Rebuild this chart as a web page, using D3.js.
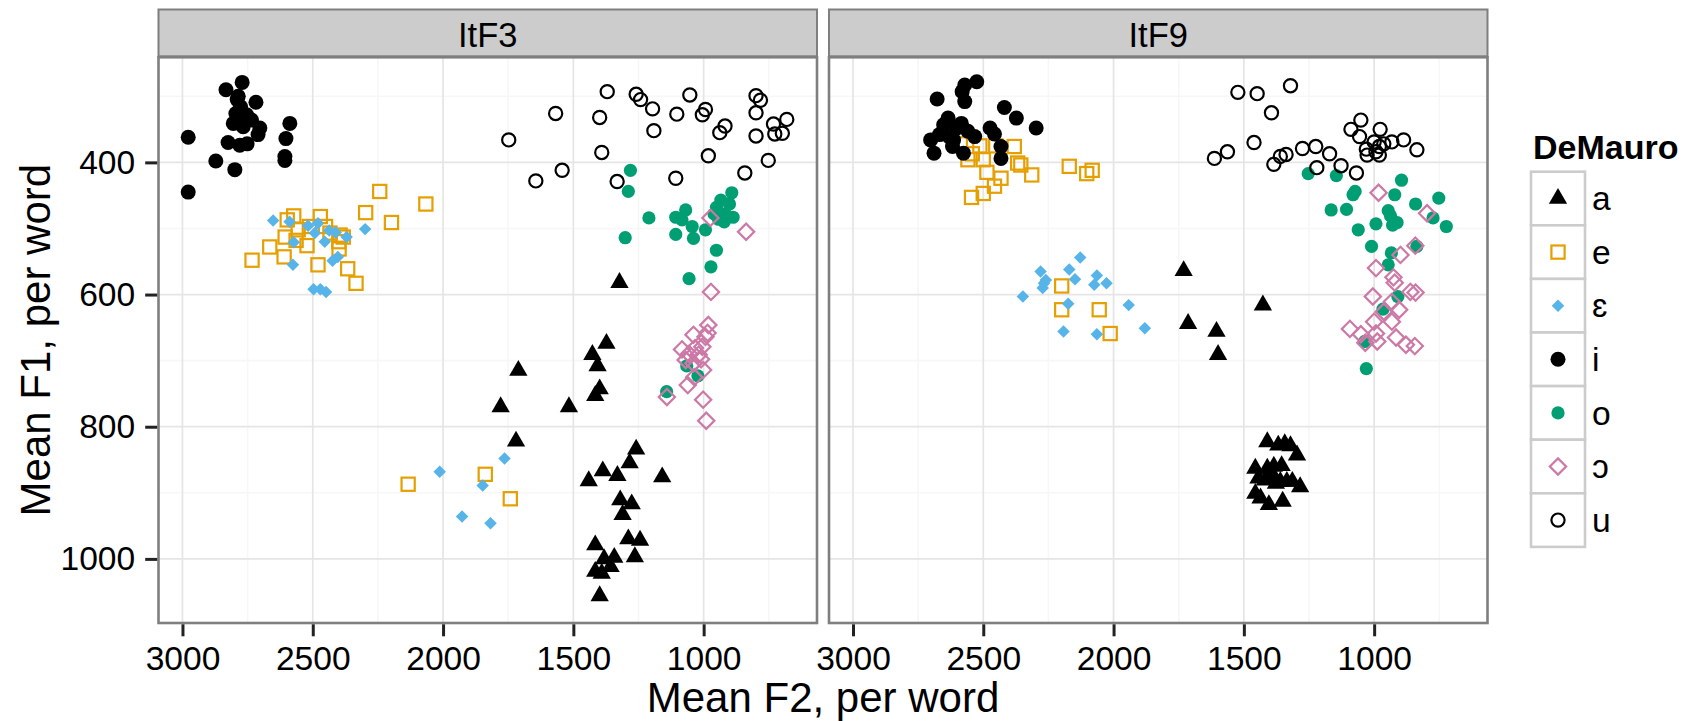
<!DOCTYPE html>
<html>
<head>
<meta charset="utf-8">
<script src="https://cdn.jsdelivr.net/npm/d3@7"></script>
<style>
  html, body { margin: 0; padding: 0; background: #fff; }
  svg { display: block; }
  text { font-family: "Liberation Sans", Arial, Helvetica, sans-serif; }
</style>
</head>
<body>
<svg id="chart" width="1692" height="721"></svg>
<script>
// Vowel categories (DeMauro transcription) and speakers
const vowels = ["a", "e", "ɛ", "i", "o", "ɔ", "u"];
const speakers = ["ItF3", "ItF9"];

// Tick values
const xTicks = [3000, 2500, 2000, 1500, 1000];
const xMinor = [2750, 2250, 1750, 1250, 750];
const yTicks = [400, 600, 800, 1000];
const yMinor = [300, 500, 700, 900];

// Speaker ItF3: [mean F2, mean F1] per word
const itF3_a = [[1323,582],[1373,674],[1427,691],[1407,708],[1711,715],[1399,743],[1416,753],[1779,770],[1517,770],[1720,822],[1259,834],[1284,855],[1387,867],[1331,874],[1441,882],[1159,876],[1320,911],[1276,917],[1311,933],[1289,970],[1244,972],[1416,979],[1382,1000],[1343,998],[1264,997],[1416,1019],[1391,1022],[1357,1012],[1399,1056]];
const itF3_e = [[2243,444],[2066,463],[2297,476],[2198,491],[2598,487],[2573,481],[2471,482],[2451,497],[2513,497],[2556,502],[2434,507],[2395,510],[2383,513],[2400,520],[2606,513],[2564,518],[2665,528],[2522,526],[2399,531],[2733,548],[2610,543],[2480,555],[2366,561],[2334,583],[2134,887],[1838,872],[1742,909]];
const itF3_eps = [[2652,488],[2589,490],[2518,496],[2480,492],[2437,503],[2412,506],[2370,513],[2299,501],[2454,520],[2573,521],[2492,507],[2404,543],[2424,549],[2576,555],[2497,592],[2471,592],[2449,596],[2013,868],[1848,889],[1764,848],[1927,936],[1818,946]];
const itF3_i = [[2771,279],[2833,290],[2786,300],[2718,309],[2795,326],[2754,328],[2805,341],[2767,346],[2703,348],[2710,358],[2588,341],[2603,364],[2607,391],[2607,397],[2978,362],[2825,370],[2780,374],[2752,372],[2872,398],[2799,411],[2978,445],[2777,316],[2773,335],[2735,336],[2790,305]];
const itF3_o = [[1281,412],[1289,444],[1210,484],[1301,514],[1069,472],[1107,483],[1083,487],[1107,509],[1044,497],[1039,515],[993,502],[951,533],[972,558],[1056,576],[892,446],[934,457],[901,463],[951,468],[960,478],[917,478],[943,486],[887,483],[921,490],[1065,708],[1022,723],[1142,747]];
const itF3_open_o = [[974,484],[837,505],[972,596],[982,646],[1039,661],[993,664],[1083,683],[1033,681],[1005,679],[1056,690],[1019,691],[1069,699],[1010,698],[1039,704],[1002,714],[1036,725],[1061,737],[1141,755],[1002,759],[990,791],[985,658]];
const itF3_u = [[1370,293],[1259,297],[1242,305],[1053,298],[799,299],[782,306],[1568,326],[1399,332],[1196,319],[1103,327],[993,320],[1005,328],[918,345],[938,355],[799,325],[732,342],[681,335],[727,357],[698,356],[799,360],[1748,366],[1191,352],[1391,385],[982,390],[752,397],[1543,412],[1644,428],[1332,429],[1107,424],[842,416]];

// Speaker ItF9: [mean F2, mean F1] per word
const itF9_a = [[1731,564],[1427,616],[1714,644],[1605,656],[1599,691],[1410,823],[1368,828],[1343,826],[1321,829],[1296,843],[1456,863],[1410,863],[1385,860],[1355,859],[1444,878],[1419,881],[1385,876],[1360,883],[1335,883],[1314,883],[1284,891],[1456,901],[1436,908],[1404,918],[1351,913],[1377,886],[1394,870]];
const itF9_e = [[2588,372],[2513,375],[2452,375],[2381,376],[2542,387],[2559,396],[2500,396],[2356,404],[2368,401],[2486,415],[2432,424],[2457,436],[2314,419],[2170,406],[2103,417],[2082,412],[2500,447],[2545,453],[2199,587],[2199,623],[2055,623],[2013,659]];
const itF9_eps = [[2128,544],[2280,565],[2170,562],[2260,578],[2148,577],[2064,571],[2027,583],[2074,585],[2272,590],[2348,603],[2174,614],[1942,616],[2192,656],[2064,660],[1880,651],[2267,583]];
const itF9_i = [[2525,278],[2571,283],[2581,293],[2677,304],[2571,308],[2419,317],[2373,333],[2297,348],[2635,333],[2652,343],[2601,348],[2559,353],[2474,348],[2457,357],[2668,358],[2631,361],[2702,366],[2618,376],[2689,386],[2576,386],[2432,376],[2432,394],[2614,366],[2533,361],[2584,341]];
const itF9_o = [[1253,417],[1145,420],[1073,444],[1081,449],[895,427],[921,449],[752,454],[841,463],[1165,472],[1106,471],[946,473],[937,481],[993,493],[929,495],[912,491],[1061,502],[774,484],[723,497],[1010,527],[934,537],[836,527],[946,555],[909,603],[966,622],[1036,671],[1030,712]];
const itF9_open_o = [[983,446],[797,477],[842,526],[899,540],[993,560],[926,574],[921,582],[861,596],[841,597],[1005,603],[932,611],[904,623],[963,626],[1000,641],[932,641],[1093,652],[1051,660],[1034,673],[988,671],[916,665],[878,676],[844,678],[993,659]];
const itF9_u = [[1523,294],[1449,296],[1321,284],[1394,325],[1461,370],[1613,394],[1563,384],[1385,403],[1360,391],[1338,388],[1275,379],[1224,376],[1171,387],[1127,405],[1220,408],[1068,416],[1089,350],[1051,336],[1056,361],[977,350],[1000,369],[1030,380],[1027,389],[993,384],[963,372],[932,369],[887,366],[836,381],[980,389],[980,376]];

const panelData = {
  ItF3: [itF3_a, itF3_e, itF3_eps, itF3_i, itF3_o, itF3_open_o, itF3_u],
  ItF9: [itF9_a, itF9_e, itF9_eps, itF9_i, itF9_o, itF9_open_o, itF9_u]
};

// Marker styling per vowel
const colors = { "a": "#000000", "e": "#E69F00", "ɛ": "#56B4E9", "i": "#000000", "o": "#009E73", "ɔ": "#CC79A7", "u": "#000000" };

function drawMarker(g, v) {
  const c = colors[v];
  switch (v) {
    case "a":
      g.append("path").attr("d", d3.symbol().type(d3.symbolTriangle).size(145)()).attr("fill", c);
      break;
    case "e":
      g.append("rect").attr("x", -6.6).attr("y", -6.6).attr("width", 13.2).attr("height", 13.2)
        .attr("fill", "none").attr("stroke", c).attr("stroke-width", 2.2);
      break;
    case "ɛ":
      g.append("path").attr("d", d3.symbol().type(d3.symbolSquare).size(78)()).attr("transform", "rotate(45)").attr("fill", c);
      break;
    case "i":
      g.append("circle").attr("r", 7.5).attr("fill", c);
      break;
    case "o":
      g.append("circle").attr("r", 6.6).attr("fill", c);
      break;
    case "ɔ":
      g.append("path").attr("d", d3.symbol().type(d3.symbolSquare).size(132)()).attr("transform", "rotate(45)")
        .attr("fill", "none").attr("stroke", c).attr("stroke-width", 2.2);
      break;
    case "u":
      g.append("circle").attr("r", 6.6).attr("fill", "none").attr("stroke", c).attr("stroke-width", 2.2);
      break;
  }
}

const svg = d3.select("#chart");
const font = "'Liberation Sans', Arial, Helvetica, sans-serif";

// Layout
const panels = [{ x0: 158.5, x1: 817 }, { x0: 829, x1: 1487.5 }];
const panelTop = 57.3, panelBottom = 623;
const stripTop = 9.5;

const y = d3.scaleLinear().domain([241, 1097]).range([panelTop, panelBottom]);

speakers.forEach((sp, pi) => {
  const p = panels[pi];
  const x = d3.scaleLinear().domain([3092, 565]).range([p.x0, p.x1]);
  const g = svg.append("g");

  // panel background
  g.append("rect").attr("x", p.x0).attr("y", panelTop).attr("width", p.x1 - p.x0).attr("height", panelBottom - panelTop).attr("fill", "#fff");

  // minor grid
  g.selectAll(".mx").data(xMinor).join("line")
    .attr("x1", d => x(d)).attr("x2", d => x(d)).attr("y1", panelTop).attr("y2", panelBottom)
    .attr("stroke", "#F7F7F7").attr("stroke-width", 1.6);
  g.selectAll(".my").data(yMinor).join("line")
    .attr("x1", p.x0).attr("x2", p.x1).attr("y1", d => y(d)).attr("y2", d => y(d))
    .attr("stroke", "#F7F7F7").attr("stroke-width", 1.6);
  // major grid
  g.selectAll(".gx").data(xTicks).join("line")
    .attr("x1", d => x(d)).attr("x2", d => x(d)).attr("y1", panelTop).attr("y2", panelBottom)
    .attr("stroke", "#E5E5E5").attr("stroke-width", 1.7);
  g.selectAll(".gy").data(yTicks).join("line")
    .attr("x1", p.x0).attr("x2", p.x1).attr("y1", d => y(d)).attr("y2", d => y(d))
    .attr("stroke", "#E5E5E5").attr("stroke-width", 1.7);

  // clip
  const clipId = "clip" + pi;
  svg.append("clipPath").attr("id", clipId).append("rect")
    .attr("x", p.x0).attr("y", panelTop).attr("width", p.x1 - p.x0).attr("height", panelBottom - panelTop);

  const pts = g.append("g").attr("clip-path", `url(#${clipId})`);
  panelData[sp].forEach((arr, vi) => {
    const v = vowels[vi];
    pts.append("g").selectAll("g").data(arr).join("g")
      .attr("transform", d => `translate(${x(d[0])},${y(d[1])})`)
      .each(function () { drawMarker(d3.select(this), v); });
  });

  // panel border
  g.append("rect").attr("x", p.x0).attr("y", panelTop).attr("width", p.x1 - p.x0).attr("height", panelBottom - panelTop)
    .attr("fill", "none").attr("stroke", "#7F7F7F").attr("stroke-width", 2.6);

  // strip
  g.append("rect").attr("x", p.x0).attr("y", stripTop).attr("width", p.x1 - p.x0).attr("height", panelTop - stripTop - 1)
    .attr("fill", "#CCCCCC").attr("stroke", "#7F7F7F").attr("stroke-width", 2);
  g.append("text").attr("x", (p.x0 + p.x1) / 2).attr("y", 46.7).attr("text-anchor", "middle")
    .attr("font-size", 34.5).attr("fill", "#000").text(sp);

  // x axis
  const ax = g.append("g").attr("transform", `translate(0,${panelBottom + 1.3})`)
    .call(d3.axisBottom(x).tickValues(xTicks).tickSize(12).tickPadding(10).tickFormat(d3.format("d")));
  ax.select(".domain").remove();
  ax.selectAll(".tick line").attr("stroke", "#222").attr("stroke-width", 3);
  ax.selectAll(".tick text").attr("font-size", 33.6).attr("font-family", font).attr("fill", "#000");

  // y axis (left panel only)
  if (pi === 0) {
    const ay = g.append("g").attr("transform", `translate(${p.x0 - 1.3},0)`)
      .call(d3.axisLeft(y).tickValues(yTicks).tickSize(12).tickPadding(10).tickFormat(d3.format("d")));
    ay.select(".domain").remove();
    ay.selectAll(".tick line").attr("stroke", "#222").attr("stroke-width", 3);
    ay.selectAll(".tick text").attr("font-size", 33.6).attr("font-family", font).attr("fill", "#000");
  }
});

// axis titles
svg.append("text").attr("x", (panels[0].x0 + panels[1].x1) / 2).attr("y", 711.7)
  .attr("text-anchor", "middle").attr("font-size", 42).attr("fill", "#000").text("Mean F2, per word");
svg.append("text").attr("transform", `translate(50,${(panelTop + panelBottom) / 2}) rotate(-90)`)
  .attr("text-anchor", "middle").attr("font-size", 42).attr("fill", "#000").text("Mean F1, per word");

// legend
const lg = svg.append("g");
lg.append("text").attr("x", 1533).attr("y", 159.3).attr("font-size", 34).attr("font-weight", "bold")
  .attr("fill", "#000").text("DeMauro");
const keyX = 1531, keyY = 171.7, keyW = 54, keyH = 53.6;
vowels.forEach((v, i) => {
  const ky = keyY + i * keyH;
  lg.append("rect").attr("x", keyX).attr("y", ky).attr("width", keyW).attr("height", keyH)
    .attr("fill", "#fff").attr("stroke", "#CCCCCC").attr("stroke-width", 2.6);
  const m = lg.append("g").attr("transform", `translate(${keyX + keyW / 2},${ky + keyH / 2})`);
  drawMarker(m, v);
  lg.append("text").attr("x", 1592).attr("y", ky + keyH / 2).attr("dy", "0.35em")
    .attr("font-size", 33.6).attr("fill", "#000").text(v);
});
</script>
</body>
</html>
